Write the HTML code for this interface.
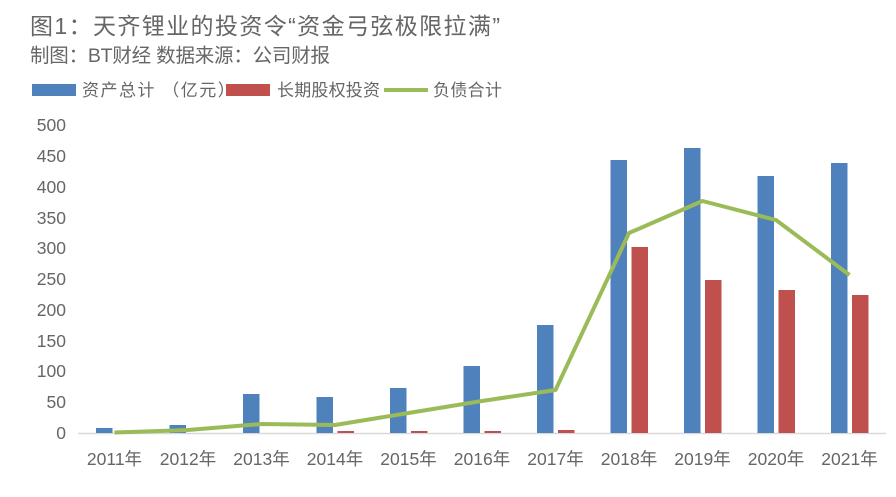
<!DOCTYPE html>
<html><head><meta charset="utf-8"><style>
body{margin:0;background:#fff;}
svg text{font-family:"Liberation Sans","Noto Sans CJK SC",sans-serif;fill:#666;}
</style></head><body>
<svg width="896" height="492" viewBox="0 0 896 492" xmlns="http://www.w3.org/2000/svg">
<text x="30" y="34" font-size="23" textLength="470" lengthAdjust="spacing">图1：天齐锂业的投资令“资金弓弦极限拉满”</text>
<text x="30" y="62" font-size="19.5" textLength="300" lengthAdjust="spacing">制图：BT财经 数据来源：公司财报</text>
<rect x="32" y="84" width="44" height="12" fill="#4f81bd"/>
<text x="82" y="96" font-size="17" letter-spacing="1.5" font-family="Noto Sans CJK SC, sans-serif">资产总计 （亿元）</text>
<rect x="226" y="84" width="44" height="12" fill="#c0504d"/>
<text x="277" y="96" font-size="17" textLength="103" lengthAdjust="spacing">长期股权投资</text>
<line x1="384" y1="90" x2="428" y2="90" stroke="#9bbb59" stroke-width="4"/>
<text x="433" y="96" font-size="17" textLength="69" lengthAdjust="spacing">负债合计</text>
<g font-size="17.5" text-anchor="end">
<text x="66" y="439">0</text><text x="66" y="408">50</text><text x="66" y="377">100</text>
<text x="66" y="316">200</text><text x="66" y="347">150</text><text x="66" y="285">250</text>
<text x="66" y="254">300</text><text x="66" y="224">350</text><text x="66" y="193">400</text>
<text x="66" y="162">450</text><text x="66" y="131">500</text>
</g>
<line x1="78" y1="433.5" x2="886" y2="433.5" stroke="#d9d9d9" stroke-width="1.5"/>
<g fill="#4f81bd">
<rect x="96" y="428" width="16.5" height="5"/>
<rect x="169.5" y="425" width="16.5" height="8"/>
<rect x="243" y="394" width="16.5" height="39"/>
<rect x="316.5" y="397" width="16.5" height="36"/>
<rect x="390" y="388" width="16.5" height="45"/>
<rect x="463.5" y="366" width="16.5" height="67"/>
<rect x="537" y="325" width="16.5" height="108"/>
<rect x="610.5" y="160" width="16.5" height="273"/>
<rect x="684" y="148" width="16.5" height="285"/>
<rect x="757.5" y="176" width="16.5" height="257"/>
<rect x="831" y="163" width="16.5" height="270"/>
</g>
<g fill="#c0504d">
<rect x="337.5" y="431" width="16.5" height="2"/>
<rect x="411" y="431" width="16.5" height="2"/>
<rect x="484.5" y="431" width="16.5" height="2"/>
<rect x="558" y="430" width="16.5" height="3"/>
<rect x="631.5" y="247" width="16.5" height="186"/>
<rect x="705" y="280" width="16.5" height="153"/>
<rect x="778.5" y="290" width="16.5" height="143"/>
<rect x="852" y="295" width="16.5" height="138"/>
</g>
<polyline fill="none" stroke="#9bbb59" stroke-width="4" stroke-linejoin="round" points="114.5,432.5 188,430 261.5,424 335,425 408.5,413 482,401 555.5,390 629,233 702.5,201 776,220 849.5,275"/>
<g font-size="17.5" text-anchor="middle">
<text x="114.5" y="465">2011年</text><text x="188" y="465">2012年</text><text x="261.5" y="465">2013年</text>
<text x="335" y="465">2014年</text><text x="408.5" y="465">2015年</text><text x="482" y="465">2016年</text>
<text x="555.5" y="465">2017年</text><text x="629" y="465">2018年</text><text x="702.5" y="465">2019年</text>
<text x="776" y="465">2020年</text><text x="849.5" y="465">2021年</text>
</g>
</svg>
</body></html>
